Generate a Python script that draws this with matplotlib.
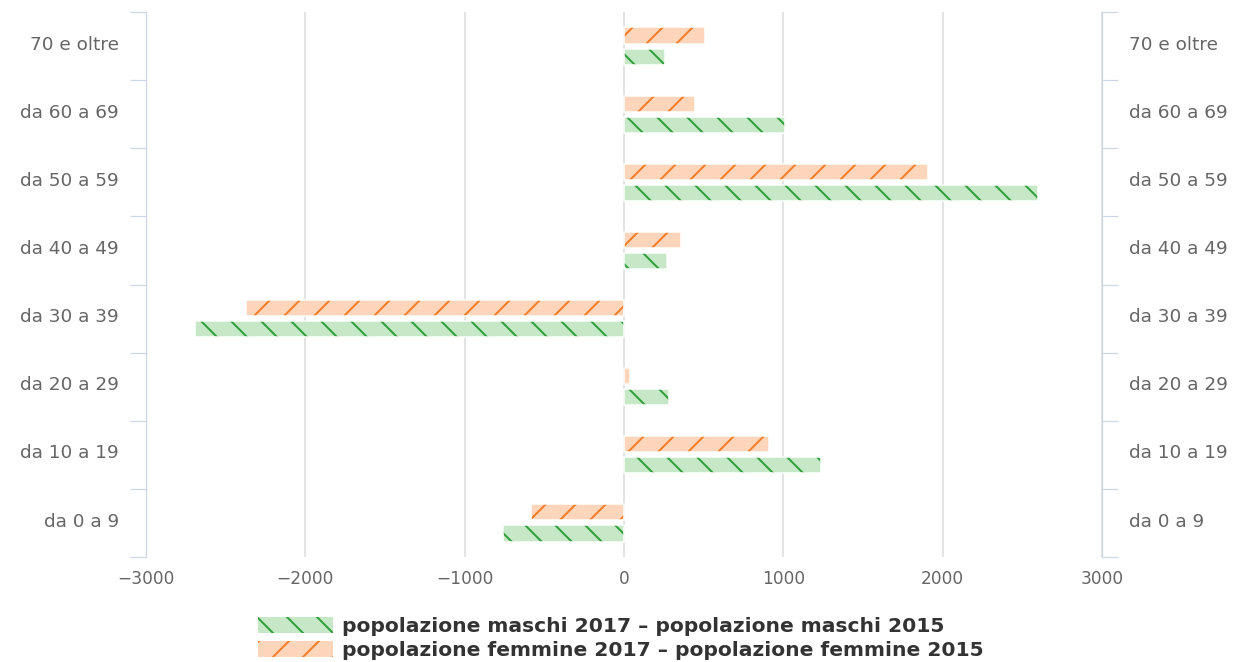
import matplotlib
matplotlib.use("Agg")
import matplotlib.pyplot as plt
from matplotlib.patches import Patch
import numpy as np

# age groups, bottom to top
categories = ["da 0 a 9", "da 10 a 19", "da 20 a 29", "da 30 a 39",
              "da 40 a 49", "da 50 a 59", "da 60 a 69", "70 e oltre"]
# difference 2017 - 2015
males = [-760, 1235, 285, -2690, 270, 2600, 1010, 260]
females = [-585, 910, 40, -2370, 360, 1910, 445, 510]
x_ticks = [-3000, -2000, -1000, 0, 1000, 2000, 3000]
labels = ["popolazione maschi 2017 – popolazione maschi 2015",
          "popolazione femmine 2017 – popolazione femmine 2015"]

# high dpi so the hatch tile gives wide spacing
DPI = 180
PX = 72.0 / DPI  # points per pixel

plt.rcParams['hatch.linewidth'] = 2.0 * PX
plt.rcParams['font.family'] = ['DejaVu Sans']

green_fill, green_hatch = "#c6e8c6", "#2f9e3c"
orange_fill, orange_hatch = "#fdd5bb", "#f57d26"
axis_col = "#ccd6eb"
text_col = "#666666"

fig = plt.figure(figsize=(1241 / DPI, 662 / DPI), dpi=DPI)
ax = fig.add_axes([146 / 1241, 1 - 557 / 662, (1102 - 146) / 1241, (557 - 12) / 662])

y = np.arange(len(categories))
off, h = 0.155, 0.235

for vals, pos, fill, hc, hatch in [(females, y + off, orange_fill, orange_hatch, '//'),
                                   (males, y - off, green_fill, green_hatch, '\\\\')]:
    ax.barh(pos, vals, h, color=fill, linewidth=0, zorder=2)
    ax.barh(pos, vals, h, facecolor='none', edgecolor=hc, hatch=hatch, linewidth=0, zorder=3)
    ax.barh(pos, vals, h, facecolor='none', edgecolor='white', linewidth=1.5 * PX, zorder=4)

ax.set_xlim(-3000, 3000)
ax.set_ylim(-0.5, len(categories) - 0.5)
ax.set_xticks(x_ticks)
ax.set_xticklabels([str(v).replace('-', '\u2212') for v in x_ticks])
ax.tick_params(axis='x', length=0, pad=13 * PX, labelsize=17 * PX, labelcolor=text_col)
ax.grid(axis='x', color='#e3e3e3', linewidth=2 * PX, zorder=0)
ax.set_axisbelow(True)

# boundaries as major ticks, labels on minor ticks (sitting a touch above centre)
ax.set_yticks(np.arange(len(categories) + 1) - 0.5)
ax.set_yticklabels([])
ax.set_yticks(y + 0.05, minor=True)
ax.set_yticklabels(categories, minor=True)
ax.tick_params(axis='y', which='major', length=16 * PX, width=1.2 * PX, color=axis_col,
               left=True, right=True)
ax.tick_params(axis='y', which='minor', length=0, labelsize=18.5 * PX, labelcolor=text_col,
               left=True, right=True, labelleft=True, labelright=True, pad=27 * PX)

for side in ['top', 'bottom']:
    ax.spines[side].set_visible(False)
for side in ['left', 'right']:
    ax.spines[side].set_color(axis_col)
    ax.spines[side].set_linewidth(1.2 * PX)

handles = [Patch(facecolor=green_fill, edgecolor=green_hatch, hatch='\\\\', linewidth=0),
           Patch(facecolor=orange_fill, edgecolor=orange_hatch, hatch='//', linewidth=0)]
fig.legend(handles, labels, loc='upper left', bbox_to_anchor=(258 / 1241, 1 - 617 / 662),
           frameon=False, prop={'weight': 'bold', 'size': 20.3 * PX},
           labelcolor='#333333', handlelength=3.7, handleheight=0.85,
           labelspacing=0.25, handletextpad=0.45, borderpad=0, borderaxespad=0)

fig.savefig("out.png", dpi=DPI)
